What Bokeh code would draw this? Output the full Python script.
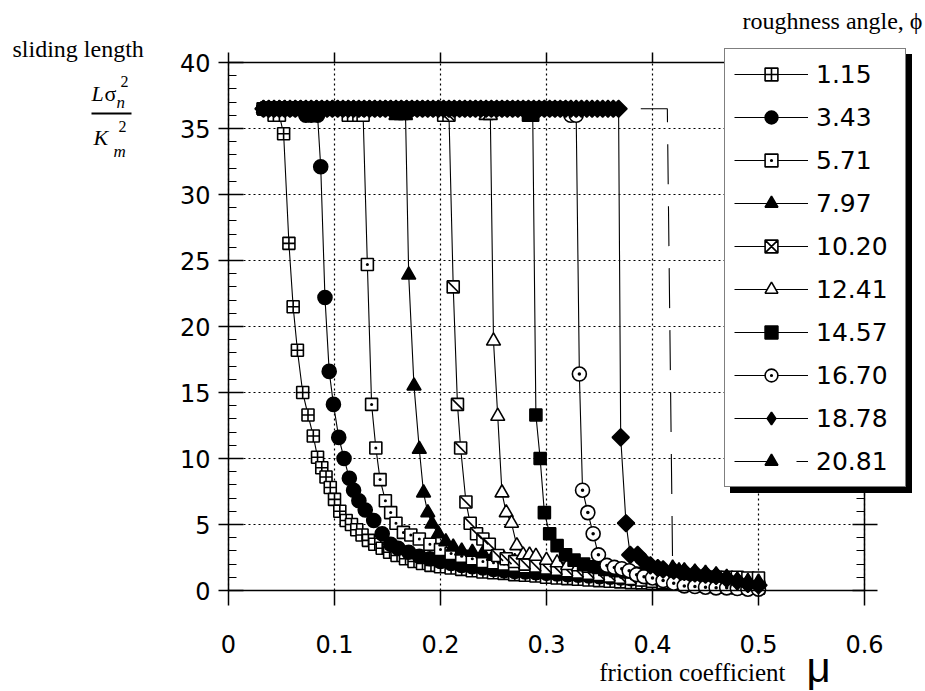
from math import pi
from bokeh.plotting import figure
from bokeh.models import (Range1d, LinearAxis, FixedTicker, Label, Legend,
                          LegendItem, BoxAnnotation)
from bokeh.embed import file_html
from bokeh.resources import INLINE

# ---------------- data ----------------
phi_labels = ["1.15", "3.43", "5.71", "7.97", "10.20", "12.41", "14.57", "16.70", "18.78", "20.81"]

x_ticks = [0, 0.1, 0.2, 0.3, 0.4, 0.5, 0.6]
x_tick_labels = ["0", "0.1", "0.2", "0.3", "0.4", "0.5", "0.6"]
y_ticks = [0, 5, 10, 15, 20, 25, 30, 35, 40]
y_minor = list(range(0, 41))

# friction-coefficient sample points along the common plateau (dense markers)
MU_GRID = [0.033, 0.038, 0.043, 0.048, 0.053, 0.058, 0.063, 0.068, 0.073, 0.078,
           0.083, 0.088, 0.093, 0.098, 0.103, 0.108, 0.113, 0.118, 0.123, 0.128,
           0.133, 0.138, 0.143, 0.148, 0.153, 0.158, 0.163, 0.168, 0.173, 0.178,
           0.183, 0.188, 0.193, 0.198, 0.203, 0.208, 0.213, 0.218, 0.223, 0.228,
           0.233, 0.238, 0.243, 0.248, 0.253, 0.258, 0.263, 0.268, 0.273, 0.278,
           0.283, 0.288, 0.293, 0.298, 0.303, 0.308, 0.313, 0.318, 0.323, 0.328,
           0.333, 0.338, 0.343, 0.348, 0.353, 0.358, 0.363]
PLATEAU = 36.5
plateau_end = [0.038, 0.068, 0.108, 0.153, 0.198, 0.238, 0.278, 0.318, 0.363, None]

mu_115 = [0.043, 0.048, 0.052, 0.057, 0.061, 0.065, 0.070, 0.075, 0.080, 0.084, 0.088, 0.092,
          0.096, 0.100, 0.105, 0.111, 0.116, 0.121, 0.126, 0.132, 0.138, 0.145, 0.152, 0.159,
          0.167, 0.175, 0.183, 0.191, 0.20, 0.21, 0.22, 0.23, 0.24, 0.25, 0.26, 0.27, 0.28,
          0.29, 0.30, 0.31, 0.32, 0.33, 0.34, 0.35, 0.36, 0.37, 0.38, 0.39, 0.40, 0.41, 0.42,
          0.43, 0.44, 0.45, 0.46, 0.47, 0.48, 0.49, 0.50]
L_115 = [36.0, 36.0, 34.6, 26.3, 21.5, 18.2, 15.0, 13.3, 11.7, 10.1, 9.3, 8.6,
         7.8, 6.9, 6.0, 5.3, 5.0, 4.6, 4.2, 3.8, 3.5, 3.2, 2.9, 2.65,
         2.4, 2.2, 2.05, 1.9, 1.8, 1.7, 1.6, 1.5, 1.4, 1.35, 1.3, 1.2, 1.15,
         1.1, 1.0, 0.95, 0.9, 0.85, 0.8, 0.75, 0.7, 0.65, 0.6, 0.58, 0.55, 0.5, 0.48,
         0.45, 0.42, 0.4, 0.38, 0.36, 0.34, 0.32, 0.3]

mu_343 = [0.073, 0.078, 0.084, 0.087, 0.091, 0.095, 0.099, 0.104, 0.109, 0.114, 0.118, 0.123,
          0.129, 0.137, 0.145, 0.153, 0.16, 0.17, 0.18, 0.19, 0.20, 0.21, 0.22, 0.23, 0.24,
          0.25, 0.26, 0.27, 0.28, 0.29, 0.30, 0.31, 0.32, 0.33, 0.34, 0.35, 0.36, 0.37, 0.38,
          0.39, 0.40, 0.41, 0.42, 0.43, 0.44, 0.45, 0.46, 0.47, 0.48, 0.49, 0.50]
L_343 = [36.0, 36.0, 36.0, 32.1, 22.2, 16.6, 14.1, 11.6, 10.0, 8.5, 7.6, 6.8,
         6.1, 5.3, 4.3, 3.5, 3.2, 2.9, 2.6, 2.4, 2.2, 2.05, 1.9, 1.8, 1.7,
         1.6, 1.5, 1.45, 1.4, 1.35, 1.3, 1.25, 1.2, 1.15, 1.1, 1.05, 1.0, 0.95, 0.9,
         0.85, 0.8, 0.75, 0.7, 0.65, 0.6, 0.55, 0.5, 0.48, 0.45, 0.42, 0.4]

mu_571 = [0.113, 0.118, 0.123, 0.127, 0.131, 0.135, 0.139, 0.143, 0.148, 0.153, 0.158, 0.165,
          0.172, 0.18, 0.19, 0.20, 0.21, 0.22, 0.23, 0.24, 0.25, 0.26, 0.27, 0.28, 0.29,
          0.30, 0.31, 0.32, 0.33, 0.34, 0.35, 0.36, 0.37, 0.38, 0.39, 0.40, 0.41, 0.42,
          0.43, 0.44, 0.45, 0.46, 0.47, 0.48, 0.49, 0.50]
L_571 = [36.0, 36.0, 36.0, 36.0, 24.7, 14.1, 10.8, 8.4, 6.8, 5.9, 5.1, 4.4,
         4.2, 3.9, 3.5, 3.1, 2.8, 2.6, 2.4, 2.2, 2.1, 2.0, 1.9, 1.8, 1.75,
         1.7, 1.65, 1.6, 1.55, 1.5, 1.45, 1.4, 1.35, 1.3, 1.25, 1.2, 1.15, 1.1,
         1.1, 1.05, 1.0, 1.0, 1.0, 1.0, 0.95, 0.95]

mu_797 = [0.158, 0.163, 0.167, 0.170, 0.175, 0.180, 0.184, 0.188, 0.192, 0.198, 0.205, 0.212,
          0.22, 0.23, 0.24, 0.25, 0.26, 0.27, 0.28, 0.29, 0.30, 0.31, 0.32, 0.33, 0.34,
          0.35, 0.36, 0.37, 0.38, 0.39, 0.40, 0.41, 0.42, 0.43, 0.44, 0.45, 0.46, 0.47,
          0.48, 0.49, 0.50]
L_797 = [36.0, 36.0, 36.0, 23.9, 15.5, 10.7, 7.4, 5.9, 5.05, 4.3, 3.7, 3.3,
         3.0, 2.9, 2.8, 2.6, 2.4, 2.2, 2.0, 1.9, 1.8, 1.7, 1.6, 1.5, 1.45,
         1.4, 1.35, 1.3, 1.25, 1.2, 1.15, 1.1, 1.05, 1.0, 0.95, 0.9, 0.85, 0.8,
         0.75, 0.7, 0.65]

mu_1020 = [0.203, 0.208, 0.212, 0.216, 0.219, 0.224, 0.228, 0.234, 0.240, 0.246, 0.254, 0.262,
           0.27, 0.28, 0.29, 0.30, 0.31, 0.32, 0.33, 0.34, 0.35, 0.36, 0.37, 0.38, 0.39,
           0.40, 0.41, 0.42, 0.43, 0.44, 0.45, 0.46, 0.47, 0.48, 0.49, 0.50]
L_1020 = [36.0, 36.0, 23.0, 14.1, 10.8, 6.7, 5.1, 4.3, 3.9, 3.5, 2.65, 2.4,
          2.2, 2.0, 1.85, 1.7, 1.6, 1.5, 1.4, 1.3, 1.2, 1.1, 1.0, 0.9, 0.8,
          0.7, 0.6, 0.5, 0.45, 0.4, 0.35, 0.3, 0.25, 0.2, 0.2, 0.2]

mu_1241 = [0.243, 0.247, 0.250, 0.254, 0.258, 0.262, 0.267, 0.272, 0.278, 0.284, 0.29,
           0.30, 0.31, 0.32, 0.33, 0.34, 0.35, 0.36, 0.37, 0.38, 0.39, 0.40, 0.41,
           0.42, 0.43, 0.44, 0.45, 0.46, 0.47, 0.48, 0.49, 0.50]
L_1241 = [36.0, 36.0, 18.9, 13.2, 7.4, 5.9, 5.1, 3.4, 2.7, 2.7, 2.6,
          2.3, 2.1, 1.9, 1.8, 1.7, 1.6, 1.5, 1.4, 1.3, 1.2, 1.1, 1.0,
          0.9, 0.8, 0.7, 0.6, 0.5, 0.4, 0.35, 0.3, 0.25]

mu_1457 = [0.283, 0.287, 0.290, 0.294, 0.298, 0.303, 0.310, 0.318, 0.326, 0.335, 0.345, 0.355,
           0.365, 0.375, 0.385, 0.395, 0.405, 0.415, 0.425, 0.435, 0.445, 0.455, 0.465,
           0.475, 0.485, 0.495, 0.50]
L_1457 = [36.0, 36.0, 13.3, 10.0, 5.9, 4.3, 3.4, 2.7, 2.3, 2.0, 1.8, 1.6,
          1.5, 1.4, 1.3, 1.2, 1.1, 1.0, 0.9, 0.8, 0.7, 0.6, 0.5,
          0.4, 0.3, 0.2, 0.2]

mu_1670 = [0.323, 0.328, 0.331, 0.334, 0.339, 0.344, 0.349, 0.357, 0.364, 0.371, 0.378, 0.385,
           0.392, 0.40, 0.41, 0.42, 0.43, 0.44, 0.45, 0.46, 0.47, 0.48, 0.49, 0.50]
L_1670 = [36.0, 36.0, 16.4, 7.6, 5.9, 4.3, 2.7, 1.9, 1.75, 1.65, 1.5, 1.2,
          1.05, 0.95, 0.75, 0.55, 0.35, 0.3, 0.25, 0.2, 0.2, 0.15, 0.1, 0.1]

mu_1878 = [0.368, 0.370, 0.375, 0.379, 0.386, 0.392, 0.398, 0.405, 0.41, 0.42, 0.43,
           0.44, 0.45, 0.46, 0.47, 0.48, 0.49, 0.50]
L_1878 = [36.5, 11.6, 5.1, 2.7, 2.7, 2.2, 1.9, 1.7, 1.6, 1.5, 1.4,
          1.3, 1.2, 1.1, 0.9, 0.7, 0.5, 0.4]

mu_2081 = [0.038, 0.414, 0.419, 0.425, 0.43, 0.44, 0.45, 0.46, 0.47, 0.48, 0.49, 0.50]
L_2081 = [36.5, 36.5, 1.7, 1.5, 1.5, 1.4, 1.3, 1.2, 1.0, 0.8, 0.6, 0.5]

series_mu = [mu_115, mu_343, mu_571, mu_797, mu_1020, mu_1241, mu_1457, mu_1670, mu_1878, mu_2081]
series_L = [L_115, L_343, L_571, L_797, L_1020, L_1241, L_1457, L_1670, L_1878, L_2081]

# ---------------- styles ----------------
MLW = 1.6
STY = [
    dict(marker="square_cross", size=12, fill="white"),
    dict(marker="circle", size=14, fill="black"),
    dict(marker="square_dot", size=12, fill="white"),
    dict(marker="triangle", size=14, fill="black"),
    dict(marker="square", size=12, fill="white", slash=True, legend_marker="square_x"),
    dict(marker="triangle", size=14, fill="white"),
    dict(marker="square", size=12, fill="black"),
    dict(marker="circle_dot", size=14, fill="white"),
    dict(marker="square", size=12, fill="black", angle=pi / 4, legend_marker="diamond"),
    dict(marker="triangle", size=14, fill="black", dash="40 22"),
]

# canvas layout (pixels): data rectangle inside the 925x691 canvas
W, H = 925, 691
FL, FR, FT, FB = 228, 864, 62, 590
X0, X1, Y0, Y1 = 0.0, 0.6, 0.0, 40.0
sx = (FR - FL) / (X1 - X0)
sy = (FB - FT) / (Y1 - Y0)
x_range = Range1d(X0 - FL / sx, X1 + (W - FR) / sx)
y_range = Range1d(Y0 - (H - FB) / sy, Y1 + FT / sy)

p = figure(width=W, height=H, x_range=x_range, y_range=y_range,
           output_backend="svg", toolbar_location=None,
           x_axis_location=None, y_axis_location=None,
           min_border_left=0, min_border_right=0, min_border_top=0, min_border_bottom=0)
p.outline_line_color = None
p.background_fill_color = "white"
p.border_fill_color = "white"

TICK_FONT = "DejaVu Sans"


def make_axis(loc, bounds, ticks, minor, t_in, t_out, m_in, labels=True):
    ax = LinearAxis(fixed_location=loc, bounds=bounds,
                    ticker=FixedTicker(ticks=ticks, minor_ticks=minor))
    ax.axis_line_color = "black"
    ax.axis_line_width = 1.5
    ax.major_tick_line_color = "black"
    ax.major_tick_line_width = 1.5
    ax.minor_tick_line_color = "black"
    ax.minor_tick_line_width = 1.2
    ax.major_tick_in = t_in
    ax.major_tick_out = t_out
    ax.minor_tick_in = m_in
    ax.minor_tick_out = 0
    ax.major_label_text_font = TICK_FONT
    ax.major_label_text_font_size = "24px"
    ax.major_label_text_color = "black" if labels else None
    return ax


xa = make_axis(Y0, (X0, X1), x_ticks, [], 0, 15, 0)
xa.major_label_overrides = dict(zip(x_ticks, x_tick_labels))
xa.major_label_standoff = 29
p.add_layout(xa, "below")

ya = make_axis(X0, (Y0, Y1), y_ticks, y_minor, 15, 10, 8)
ya.major_label_standoff = 8
p.add_layout(ya, "left")

ra = make_axis(X1, (Y0, Y1), y_ticks, y_minor, 12, 13, 8, labels=False)
p.add_layout(ra, "right")

ta = make_axis(Y1, (X0, X1), x_ticks, [], 0, 10, 0, labels=False)
p.add_layout(ta, "above")

p.xgrid.ticker = FixedTicker(ticks=x_ticks)
p.ygrid.ticker = FixedTicker(ticks=y_ticks)
p.xgrid.bounds = (X0, X1)
p.xgrid.cross_bounds = (Y0, Y1)
p.ygrid.bounds = (Y0, Y1)
p.ygrid.cross_bounds = (X0, X1)
p.grid.grid_line_color = "black"
p.grid.grid_line_dash = "2 3"
p.grid.grid_line_width = 1.2

# legend-only key glyphs are parked outside the visible ranges
KEY_X, KEY_Y = [x_range.end + 1.0], [y_range.end + 10.0]

# ---------------- series ----------------
leg_renderers = []
for i in range(len(phi_labels)):
    s = STY[i]
    xs, ys = [], []
    if plateau_end[i] is not None:
        for m in MU_GRID:
            if m <= plateau_end[i] + 1e-9:
                xs.append(m)
                ys.append(PLATEAU)
    xs = xs + series_mu[i]
    ys = ys + series_L[i]
    rl = p.line(xs, ys, line_color="black", line_width=1.1, line_dash=s.get("dash", "solid"))
    if i == 9:
        mx = [x for x, y in zip(xs, ys) if y < 30]
        my = [y for y in ys if y < 30]
    else:
        mx, my = xs, ys
    rm = p.scatter(mx, my, marker=s["marker"], size=s["size"], fill_color=s["fill"],
                   line_color="black", line_width=MLW, angle=s.get("angle", 0))
    if s.get("slash"):
        p.scatter(mx, my, marker="dash", size=15, line_color="black",
                  line_width=MLW, angle=-pi / 4)
    if s.get("legend_marker"):
        rm = p.scatter(KEY_X, KEY_Y, marker=s["legend_marker"], fill_color=s["fill"],
                       line_color="black", line_width=MLW)
    leg_renderers.append([rl, rm])

# ---------------- legend (with drop shadow) ----------------
LEG = dict(glyph_width=74, glyph_height=32, label_height=32, label_width=80,
           spacing=11, padding=9, label_standoff=8, margin=0,
           label_text_font=TICK_FONT, label_text_font_size="25px",
           border_line_width=1.5, border_line_color="black", background_fill_alpha=1.0)
LEG_LEFT, LEG_BOTTOM = 724, 487
shadow = Legend(items=[LegendItem(label=" ", renderers=r) for r in leg_renderers],
                location=(LEG_LEFT + 6, H - LEG_BOTTOM - 6),
                background_fill_color="black", label_text_color="black", **LEG)
legend = Legend(items=[LegendItem(label=l, renderers=r) for l, r in zip(phi_labels, leg_renderers)],
                location=(LEG_LEFT, H - LEG_BOTTOM),
                background_fill_color="white", label_text_color="black", **LEG)
p.add_layout(shadow)
p.add_layout(legend)


# ---------------- free texts ----------------
def text(t, cx, cy, size, font="Liberation Serif", style="normal", align="left"):
    # cy is the wanted baseline (canvas px from top); Bokeh places the alphabetic
    # baseline about 0.31 em below the anchor, so compensate
    p.add_layout(Label(x=cx, y=H - (cy - 0.31 * size), x_units="screen", y_units="screen",
                       text=t, text_font=font, text_font_size=f"{size}px",
                       text_font_style=style, text_align=align,
                       text_baseline="alphabetic", text_color="black"))


text("sliding length", 12, 56, 24)
text("L", 91, 100, 22, style="italic")
text("σ", 104, 100, 22)
text("2", 120, 86, 16)
text("n", 116, 107, 17, style="italic")
text("K", 93, 144, 22, style="italic")
text("2", 118, 131, 16)
text("m", 113, 156, 17, style="italic")
p.add_layout(BoxAnnotation(left=91, right=131, top=H - 112, bottom=H - 114,
                           left_units="screen", right_units="screen",
                           top_units="screen", bottom_units="screen",
                           fill_color="black", fill_alpha=1, line_color=None))
text("roughness angle, ϕ", 922, 28, 24, align="right")
text("friction coefficient", 785, 680, 25, align="right")
text("μ", 806, 680, 42, font="Liberation Sans")

open("out.html", "w").write(file_html(p, INLINE))
